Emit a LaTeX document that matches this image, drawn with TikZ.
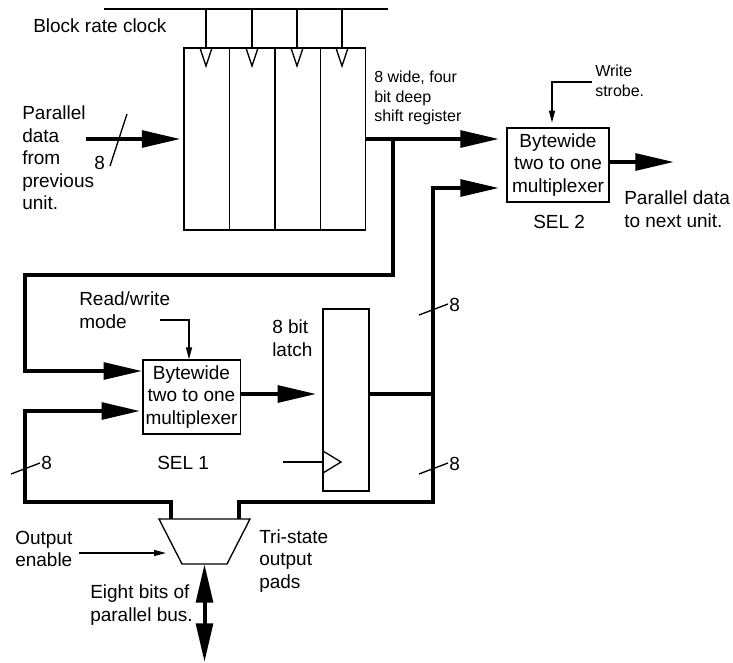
\documentclass[tikz,border=0pt]{standalone}
\usepackage{fontspec}
\setmainfont{Liberation Sans}
\usetikzlibrary{arrows.meta,calc}
\tikzset{
  thinline/.style={line width=1pt,draw=black},
  bus/.style={line width=3pt,draw=black,line join=miter},
  busarrow/.style={bus,-{Triangle[length=29pt,width=12.5pt]}},
  busdouble/.style={bus,{Triangle[length=29pt,width=12.5pt]}-{Triangle[length=29pt,width=12.5pt]}},
  sig/.style={thinline,-{Triangle[length=9pt,width=4.5pt]}},
  box/.style={thinline,fill=white,inner sep=0pt,align=center,font=\fontsize{14.25}{16.9}\selectfont},
  label/.style={inner sep=0pt,anchor=west,align=left,font=\fontsize{14.25}{16.9}\selectfont},
  smalllabel/.style={inner sep=0pt,anchor=west,align=left,font=\fontsize{12}{14.6}\selectfont},
  clk/.style={thinline,line join=miter},
}
\begin{document}
\begin{tikzpicture}[x=0.75pt,y=-0.75pt]
\useasboundingbox (0,0) rectangle (733,662);
% shift register
\node[box,minimum width=136pt,minimum height=136.5pt] (reg) at (274.5,139) {};
\node[box,minimum width=34pt,minimum height=136.5pt] (reg2) at (252,139) {};
\node[box,minimum width=34pt,minimum height=136.5pt] (reg3) at (297.5,139) {};
\foreach \n/\x in {a/206,b/252,c/297,d/342}{
  \coordinate (top\n) at (\x,9);
  \coordinate (clk\n) at (\x,48);
  \draw[clk] (top\n) -- (clk\n);
  \draw[clk] ($(clk\n)+(-6,0)$) -- ($(clk\n)+(0,18)$) -- ($(clk\n)+(6,0)$);
}
\coordinate (topl) at (104,9);
\coordinate (topr) at (388,9);
\draw[thinline] (topl) -- (topr);
\node[label] (blockclk) at (33,26) {Block rate clock};
% multiplexers and latch
\node[box,minimum width=76.5pt,minimum height=55.5pt] (mux2) at (558,165) {Bytewide\\two to one\\multiplexer};
\node[box,minimum width=73pt,minimum height=55.5pt] (mux1) at (191.5,397) {Bytewide\\two to one\\multiplexer};
\node[box,minimum width=34.5pt,minimum height=136.5pt] (latch) at (346,400) {};
\draw[clk] (323,451) -- (341,462) -- (323,473);
\coordinate (latchclk) at (283,462);
\draw[thinline] (latchclk) -- (latch.west |- latchclk);
% tri-state pads
\coordinate (tl) at (159,519);
\coordinate (tr) at (250,519);
\coordinate (br) at (227,564);
\coordinate (bl) at (182,564);
\draw[thinline,line join=miter] (tl) -- (tr) -- (br) -- (bl) -- cycle;
% input
\coordinate (in) at (86,139);
\draw[busarrow,shorten >=2pt] (in) -- (reg.west |- in);
\coordinate (s1a) at (127,114); \coordinate (s1b) at (110,166);
\draw[thinline] (s1a) -- (s1b);
\node[label] (eightin) at (94,163) {8};
\node[label] (pardata) at (22,158) {Parallel\\data\\from\\previous\\unit.};
% shift register output
\coordinate (regout) at (reg.east |- in);
\draw[busarrow,shorten >=5.5pt] (regout) -- (mux2.west |- regout);
\coordinate (j1) at (393,139);
\coordinate (j2) at (393,275);
\coordinate (j3) at (25,275);
\coordinate (j4) at (25,371);
\draw[busarrow] (j1) -- (j2) -- (j3) -- (j4) -- (mux1.west |- j4);
% latch bus
\coordinate (m1out) at (mux1.east |- 0,394);
\draw[busarrow,shorten >=4.5pt] (m1out) -- (latch.west |- m1out);
\coordinate (lout) at (latch.east |- m1out);
\coordinate (j5) at (433,394);
\coordinate (j6) at (433,188);
\draw[bus] (lout) -- (j5);
% feedback from pads
\coordinate (p1) at (171,519);
\coordinate (p2) at (171,502);
\coordinate (p3) at (25,502);
\coordinate (p4) at (25,411);
\draw[busarrow,shorten >=1.5pt] (p1) -- (p2) -- (p3) -- (p4) -- (mux1.west |- p4);
\coordinate (p5) at (239,519);
\coordinate (p6) at (239,502);
\coordinate (p7) at (433,502);
\draw[busarrow,shorten >=5.5pt] (p5) -- (p6) -- (p7) -- (j6) -- (mux2.west |- j6);
% bidirectional bus
\coordinate (busend) at (204.5,662);
\draw[busdouble] (bl -| busend) -- (busend);
% slashes
\foreach \n/\x/\y in {u/419/315,v/419/474,w/11/474}{
  \coordinate (\n a) at (\x,\y);
  \coordinate (\n b) at ($(\x,\y)+(29,-11)$);
  \draw[thinline] (\n a) -- (\n b);
}
\node[label] (eightu) at (449,305) {8};
\node[label] (eightv) at (449,464) {8};
\node[label] (eightw) at (41,463) {8};
% mux control inputs
\coordinate (rw) at (160,320);
\coordinate (rwc) at (189,320);
\draw[sig] (rw) -- (rwc) -- (rwc |- mux1.north);
\coordinate (ws) at (592,82);
\coordinate (wsc) at (552,82);
\draw[sig,shorten >=3.5pt] (ws) -- (wsc) -- (wsc |- mux2.north);
\coordinate (oe) at (79,553);
\coordinate (oee) at (166,553);
\draw[sig] (oe) -- (oee);
% mux 2 output
\coordinate (m2o) at (mux2.east |- 0,162);
\coordinate (m2e) at (674,162);
\draw[busarrow] (m2o) -- (m2e);
% labels
\node[smalllabel] (shiftlab) at (374,98) {8 wide, four\\bit deep\\shift register};
\node[smalllabel] (writelab) at (595,81) {Write\\strobe.};
\node[label] (sel2) at (533,222) {SEL 2};
\node[label] (nextlab) at (624,209) {Parallel data\\to next unit.};
\node[label] (rwlab) at (79,310) {Read/write\\mode};
\node[label] (latchlab) at (272,338) {8 bit\\latch};
\node[label] (sel1) at (157,463) {SEL 1};
\node[label] (oelab) at (15,549) {Output\\enable};
\node[label] (trilab) at (259,561) {Tri-state\\output\\pads};
\node[label] (buslab) at (90,605) {Eight bits of\\parallel bus.};
\end{tikzpicture}
\end{document}
